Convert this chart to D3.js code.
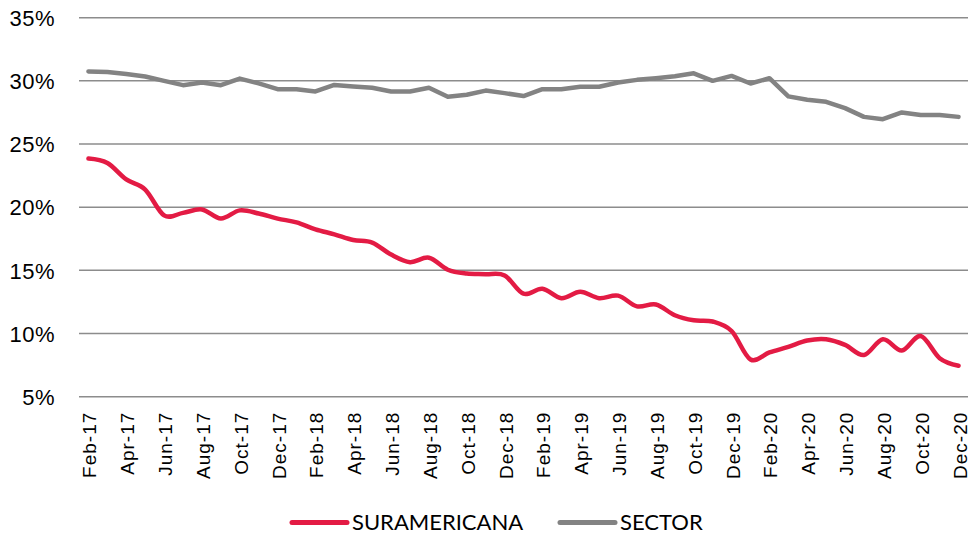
<html>
<head>
<script src="https://cdn.jsdelivr.net/npm/d3@7"></script>
<style>
  body { margin: 0; background: #fff; }
  svg { font-family: Lato, "Open Sans", sans-serif; }
  .grid line { stroke: #8c8c8c; stroke-width: 1.5px; }
  .axis text { fill: #000; }
  .line { fill: none; stroke-width: 4.5px; stroke-linecap: round; stroke-linejoin: round; }
</style>
</head>
<body>
<div id="chart"></div>
<script>
// months, Feb-17 .. Dec-20
var monthNames = ["Jan","Feb","Mar","Apr","May","Jun","Jul","Aug","Sep","Oct","Nov","Dec"];
var months = [];
for (var k = 1; k < 48; k++) {
  months.push(monthNames[k % 12] + "-" + (17 + Math.floor(k / 12)));
}

var suramericana = [23.85, 23.5, 22.2, 21.4, 19.35, 19.55, 19.82, 19.1, 19.75, 19.5,
  19.1, 18.8, 18.25, 17.85, 17.4, 17.2, 16.25, 15.65, 16.0, 15.05,
  14.75, 14.7, 14.6, 13.15, 13.55, 12.8, 13.3, 12.8, 13.0, 12.15,
  12.3, 11.45, 11.05, 10.95, 10.2, 7.95, 8.5, 8.95, 9.45, 9.55,
  9.1, 8.3, 9.55, 8.65, 9.8, 8.05, 7.45];

var sector = [30.75, 30.7, 30.55, 30.35, 30.0, 29.66, 29.87, 29.66, 30.18, 29.8,
  29.34, 29.34, 29.16, 29.68, 29.56, 29.45, 29.16, 29.16, 29.45, 28.74,
  28.9, 29.23, 29.03, 28.8, 29.34, 29.34, 29.53, 29.53, 29.87, 30.08,
  30.21, 30.37, 30.6, 30.0, 30.39, 29.79, 30.21, 28.77, 28.5, 28.34,
  27.84, 27.15, 26.97, 27.5, 27.3, 27.3, 27.15];

var yTicks = [5, 10, 15, 20, 25, 30, 35];

var series = [
  {name: "SURAMERICANA", values: suramericana, color: "#e31b44", curve: d3.curveCatmullRom.alpha(0)},
  {name: "SECTOR", values: sector, color: "#838383", curve: d3.curveLinear}
];

var width = 970, height = 537;
var plotLeft = 79, plotRight = 968, plotTop = 17.7, plotBottom = 396.7;

var svg = d3.select("#chart").append("svg")
  .attr("width", width)
  .attr("height", height);

var xScale = d3.scalePoint()
  .domain(months)
  .range([plotLeft, plotRight])
  .padding(0.5);

var yScale = d3.scaleLinear()
  .domain([5, 35])
  .range([plotBottom, plotTop]);

/* grid lines */
svg.append("g")
  .attr("class", "grid")
  .selectAll("line")
  .data(yTicks).enter()
  .append("line")
  .attr("x1", plotLeft)
  .attr("x2", plotRight)
  .attr("y1", d => yScale(d))
  .attr("y2", d => yScale(d));

/* y axis labels */
var yAxis = d3.axisLeft(yScale)
  .tickValues(yTicks)
  .tickSize(0)
  .tickPadding(0)
  .tickFormat(d => d + "%");

svg.append("g")
  .attr("class", "axis y")
  .attr("transform", "translate(55,0)")
  .call(yAxis)
  .call(g => g.select(".domain").remove())
  .selectAll("text")
  .style("font-size", "22px")
  .style("letter-spacing", "0.5px")
  .attr("dy", "0.35em");

/* x axis labels */
var xAxis = d3.axisBottom(xScale)
  .tickValues(months.filter((d, i) => i % 2 === 0))
  .tickSize(0)
  .tickPadding(0);

svg.append("g")
  .attr("class", "axis x")
  .attr("transform", "translate(0," + plotBottom + ")")
  .call(xAxis)
  .call(g => g.select(".domain").remove())
  .selectAll("text")
  .style("font-size", "19px")
  .style("letter-spacing", "1px")
  .attr("text-anchor", "end")
  .attr("dominant-baseline", "central")
  .attr("dy", null)
  .attr("y", 0)
  .attr("transform", "translate(1,15) rotate(-90)");

/* lines */
series.forEach(function(s) {
  var line = d3.line()
    .x((d, i) => xScale(months[i]))
    .y(d => yScale(d))
    .curve(s.curve);
  svg.append("path")
    .attr("class", "line")
    .attr("d", line(s.values))
    .style("stroke", s.color);
});

/* legend */
var legendX = [292, 560];
var legend = svg.append("g").attr("class", "legend");
series.forEach(function(s, i) {
  legend.append("line")
    .attr("x1", legendX[i])
    .attr("x2", legendX[i] + 55)
    .attr("y1", 522.5)
    .attr("y2", 522.5)
    .style("stroke", s.color)
    .style("stroke-width", "5px")
    .style("stroke-linecap", "round");
  legend.append("text")
    .attr("x", legendX[i] + 60)
    .attr("y", 522.5)
    .attr("dy", "0.35em")
    .style("font-size", "22px")
    .text(s.name);
});
</script>
</body>
</html>
